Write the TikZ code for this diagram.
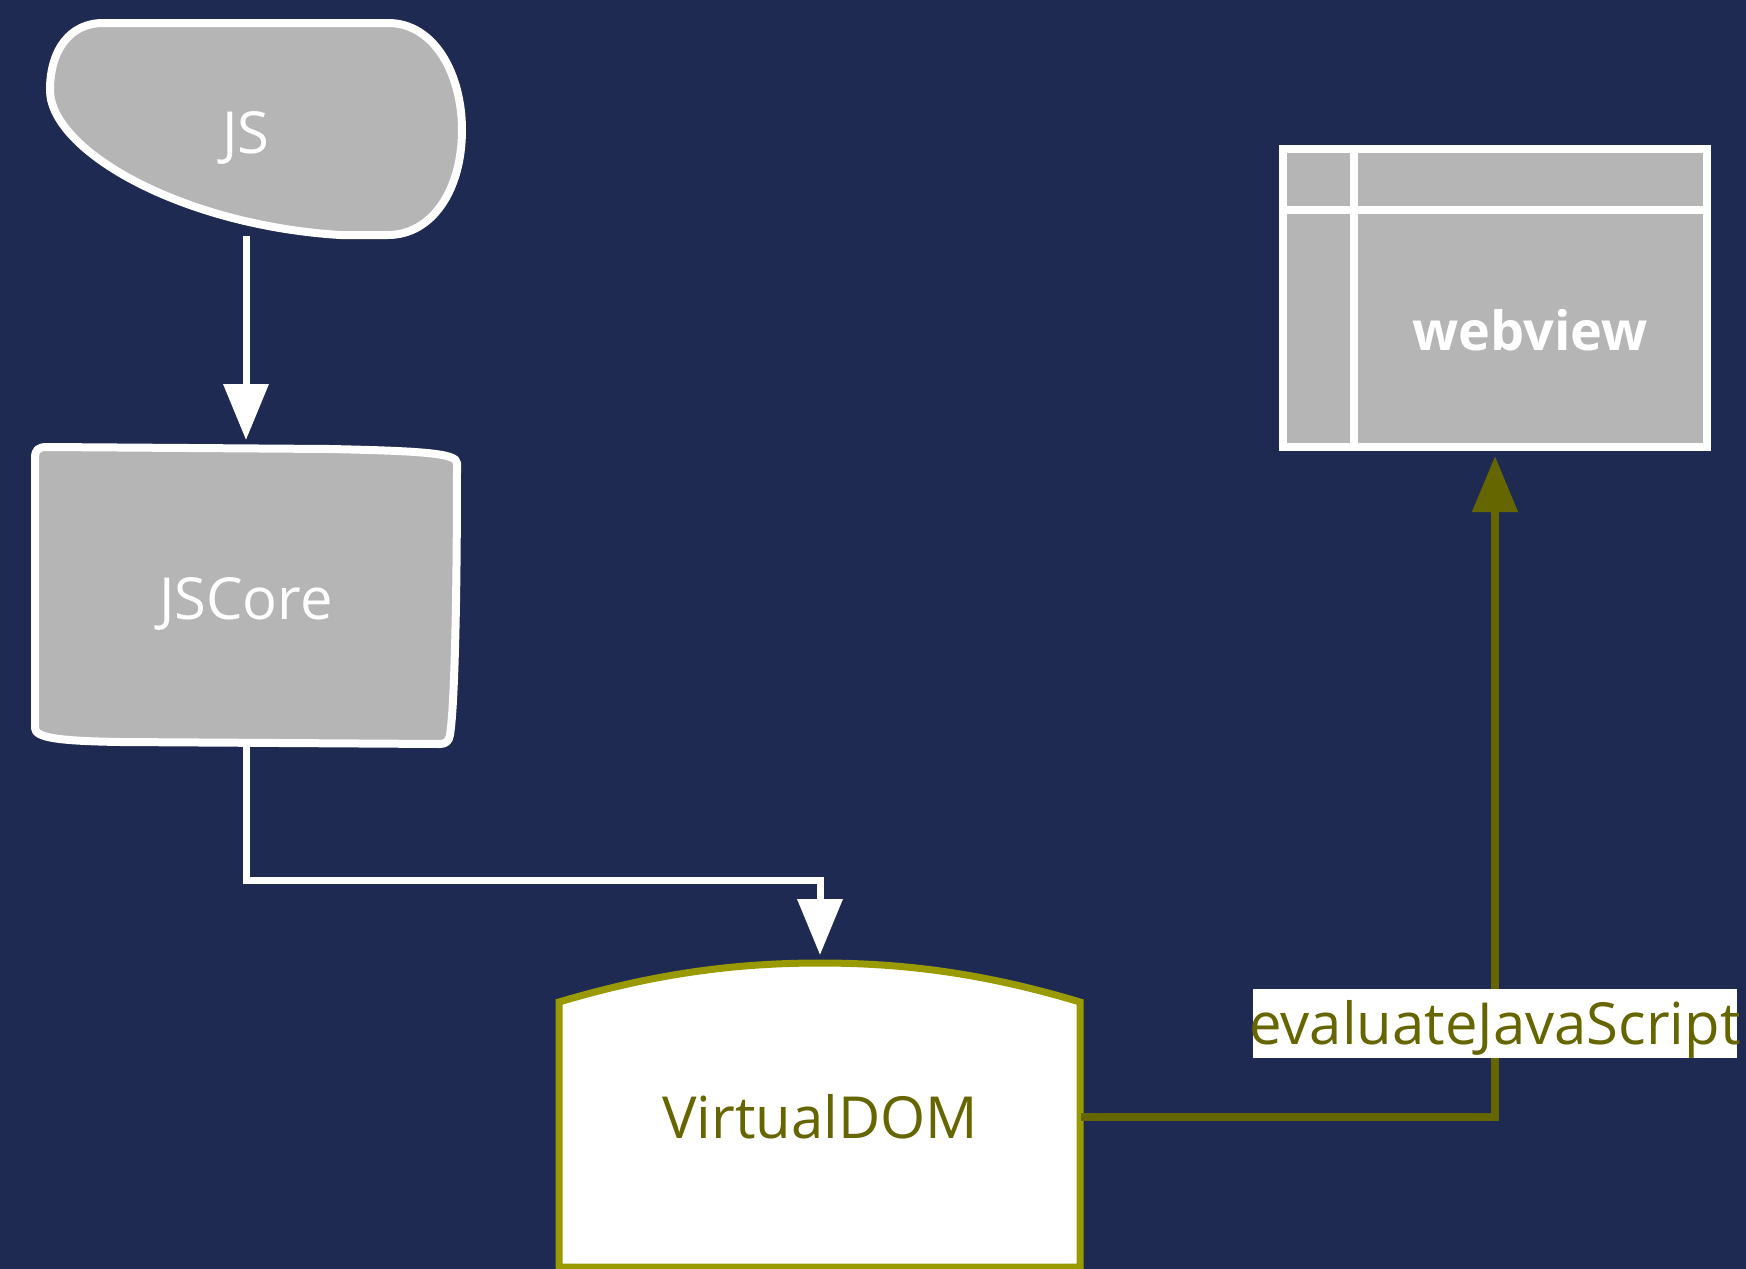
\documentclass[tikz,border=0pt]{standalone}
\usepackage{fontspec}
\setmainfont{Open Sans}
\usetikzlibrary{arrows.meta}
\definecolor{bgblue}{RGB}{30,42,82}
\definecolor{boxgrey}{RGB}{181,181,181}
\definecolor{olivedraw}{RGB}{153,153,0}
\definecolor{olivetext}{RGB}{102,102,0}

\begin{document}
\begin{tikzpicture}[x=0.5pt,y=-0.5pt,>={Triangle[length=28pt,width=22pt]},
    outline/.style={draw=white,line width=4pt,fill=boxgrey,line join=round},
    txtnode/.style={outer sep=0pt,inner sep=0pt,text=white,font=\fontsize{29}{34}\selectfont},
    lowtext/.style={text height=#1,text depth=0pt},
    flow/.style={draw=white,line width=3.5pt,->},
    jsflow/.style={draw=olivetext,line width=4pt,->}]
    \useasboundingbox (0,0) rectangle (1746,1269);
    \fill [bgblue] (0,0) rectangle (1746,1269);
    % shape outlines
    \path [outline] (103,23) -- (388,23) .. controls (435,23) and (462,75) .. (462,130)
        .. controls (462,190) and (432,235) .. (388,235) -- (340,235)
        .. controls (180,225) and (50,150) .. (50,90) .. controls (50,50) and (70,23) .. (103,23) -- cycle;
    \path [outline] (35,458) .. controls (35,450) and (38,447) .. (47,447) -- (330,449)
        .. controls (420,451) and (457,453) .. (457,463) .. controls (457,620) and (454,710) .. (450,735)
        .. controls (449,741) and (446,744) .. (440,744) -- (120,742)
        .. controls (60,741) and (35,738) .. (35,728) -- cycle;
    \path [draw=olivedraw,line width=3.5pt,fill=white] (559,1267) -- (559,1002)
        .. controls (650,975) and (730,963) .. (820,963) .. controls (910,963) and (990,975) .. (1080,1002)
        -- (1080,1267) -- cycle;
    % nodes
    \node [txtnode,lowtext=24pt,minimum width=206pt,minimum height=106.5pt] (js) at (246,129) {JS};
    \node [txtnode,lowtext=24pt,minimum width=211pt,minimum height=148.5pt] (jscore) at (246,595.5) {JSCore};
    \node [txtnode,text=olivetext,minimum width=260.5pt,minimum height=154pt] (vdom) at (820,1117) {VirtualDOM};
    \node [draw=white,line width=4pt,fill=boxgrey,outer sep=0pt,minimum width=212pt,minimum height=149pt,
        label={[txtnode,font=\fontsize{27}{32}\selectfont\bfseries,xshift=17.5pt,yshift=-16pt]center:webview}] (webview) at (1495,298) {};
    \draw [white,line width=4pt] (webview.north west) ++(71,0) -- ++(0,298);
    \draw [white,line width=4pt] (webview.north west) ++(0,61) -- ++(424,0);
    % connectors
    \draw [flow,shorten >=3.5pt] (js.south) -- (jscore.north);
    \draw [flow,shorten >=4pt] (jscore.south) -- ++(0,136) -| (vdom.north);
    \draw [jsflow,shorten >=4.5pt] (vdom.east) -| node [pos=0.57,fill=white,text=olivetext,inner xsep=-2pt,inner ysep=0pt,
        lowtext=21pt,minimum height=34.5pt,font=\fontsize{29}{34}\selectfont] {evaluateJavaScript} (webview.south);
\end{tikzpicture}
\end{document}
